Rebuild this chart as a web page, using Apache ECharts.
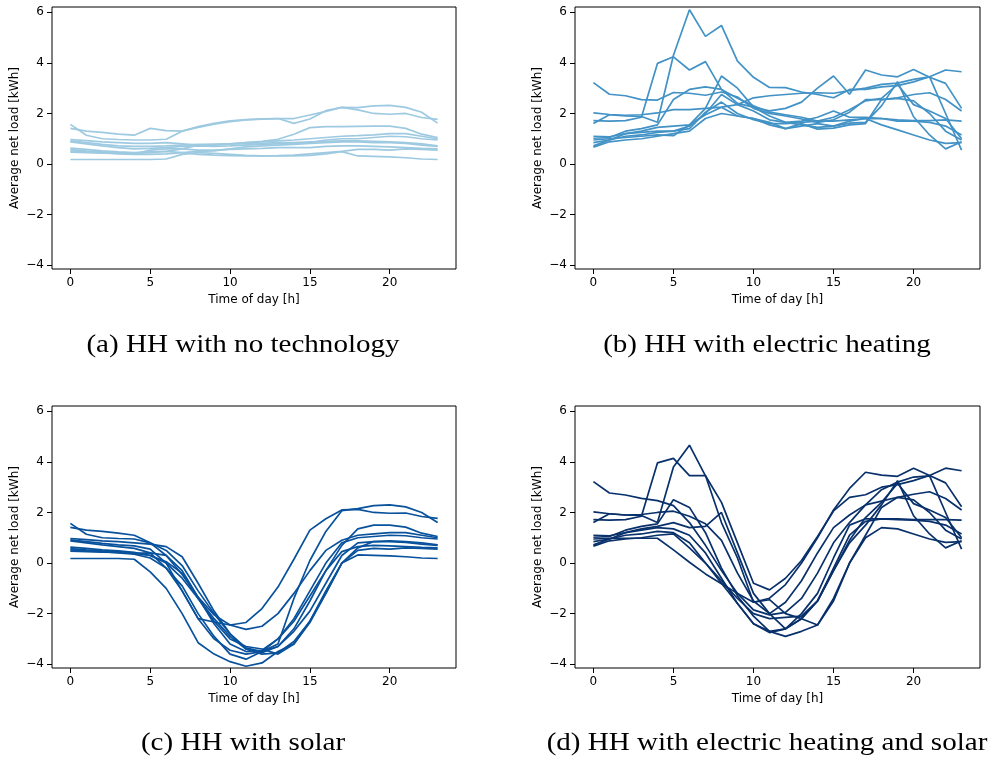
<!DOCTYPE html>
<html>
<head>
<meta charset="utf-8">
<script src="https://cdn.jsdelivr.net/npm/echarts@6/dist/echarts.min.js"></script>
<style>
  html, body { margin: 0; padding: 0; background: #ffffff; }
  #chart { width: 992px; height: 758px; }
</style>
</head>
<body>
<div id="chart"></div>
<script>
// Hour of day for every profile point
const hours = [0,1,2,3,4,5,6,7,8,9,10,11,12,13,14,15,16,17,18,19,20,21,22,23];
const xTickValues = [0, 5, 10, 15, 20];
const yTickValues = [-4, -2, 0, 2, 4, 6];

// (a) households with no technology: average net load per hour [kWh]
const noTech = [
  [1.57,1.14,1.00,0.97,0.95,0.95,0.98,1.30,1.48,1.61,1.71,1.76,1.79,1.80,1.61,1.78,2.11,2.24,2.23,2.30,2.32,2.24,2.05,1.62],
  [1.41,1.30,1.25,1.18,1.14,1.41,1.32,1.30,1.45,1.58,1.68,1.75,1.78,1.80,1.80,1.94,2.08,2.24,2.14,2.00,1.97,2.00,1.84,1.77],
  [0.97,0.93,0.88,0.85,0.82,0.82,0.85,0.80,0.75,0.75,0.80,0.85,0.90,0.98,1.18,1.44,1.48,1.48,1.49,1.50,1.50,1.41,1.18,1.05],
  [0.92,0.85,0.78,0.72,0.70,0.70,0.72,0.75,0.78,0.78,0.80,0.85,0.88,0.92,0.95,1.00,1.05,1.10,1.12,1.15,1.20,1.20,1.10,1.00],
  [0.88,0.80,0.72,0.65,0.60,0.62,0.65,0.70,0.72,0.70,0.72,0.75,0.78,0.80,0.82,0.85,0.95,1.00,1.00,1.05,1.10,1.08,1.00,0.95],
  [0.63,0.58,0.52,0.48,0.45,0.48,0.50,0.60,0.75,0.78,0.80,0.80,0.82,0.85,0.85,0.88,0.90,0.92,0.92,0.90,0.88,0.85,0.80,0.72],
  [0.57,0.52,0.48,0.45,0.40,0.55,0.60,0.60,0.55,0.55,0.58,0.60,0.62,0.65,0.65,0.65,0.70,0.72,0.72,0.70,0.68,0.65,0.62,0.60],
  [0.52,0.48,0.45,0.40,0.38,0.38,0.40,0.45,0.50,0.52,0.60,0.68,0.72,0.75,0.78,0.82,0.85,0.88,0.88,0.85,0.85,0.82,0.75,0.70],
  [0.47,0.45,0.43,0.42,0.42,0.45,0.50,0.45,0.38,0.35,0.33,0.32,0.32,0.33,0.35,0.40,0.45,0.50,0.58,0.58,0.55,0.60,0.58,0.55],
  [0.18,0.18,0.18,0.18,0.18,0.18,0.20,0.38,0.45,0.42,0.38,0.34,0.32,0.32,0.32,0.34,0.40,0.49,0.32,0.30,0.28,0.25,0.20,0.18]
];

// (b) households with electric heating
const elecHeating = [
  [1.60,1.95,1.90,1.88,1.65,4.30,6.10,5.05,5.48,4.07,3.43,3.03,3.02,2.85,2.75,2.62,2.95,2.95,3.05,3.10,3.25,3.45,3.72,3.65],
  [1.72,1.70,1.72,1.85,3.98,4.24,3.72,4.05,2.95,2.40,2.25,2.10,2.20,2.45,3.00,3.48,2.76,3.72,3.52,3.45,3.74,3.43,3.19,2.20],
  [3.22,2.76,2.70,2.55,2.53,2.83,2.80,2.72,2.85,2.65,2.20,2.00,1.90,1.78,1.65,1.75,2.05,2.55,2.55,2.62,2.75,2.82,2.55,2.10],
  [2.02,1.96,1.93,1.95,2.02,2.15,2.15,2.20,2.25,2.35,2.62,2.70,2.75,2.80,2.82,2.80,2.90,3.00,3.15,3.20,3.35,3.45,2.00,0.55],
  [1.10,1.08,1.20,1.30,1.45,1.50,1.55,2.20,3.48,3.00,2.25,1.90,1.65,1.55,1.45,1.50,1.62,1.65,2.30,3.26,1.87,1.15,0.60,0.88],
  [1.02,1.05,1.30,1.40,1.55,2.55,2.95,3.05,2.95,2.60,2.30,2.05,1.95,1.85,1.70,1.85,2.15,2.50,2.60,3.15,2.35,2.10,1.80,1.00],
  [0.72,0.95,1.20,1.25,1.30,1.30,1.50,2.00,2.75,2.35,2.10,1.75,1.65,1.70,1.85,2.10,1.85,1.85,1.80,1.75,1.72,1.72,1.75,1.70],
  [0.85,0.95,1.10,1.15,1.25,1.30,1.40,2.05,2.45,2.00,1.75,1.60,1.60,1.65,1.70,1.70,1.75,1.80,1.80,1.70,1.70,1.65,1.50,1.15],
  [0.67,0.88,0.95,1.00,1.10,1.20,1.30,1.80,2.00,1.90,1.80,1.65,1.40,1.60,1.38,1.42,1.55,1.60,2.55,2.60,2.50,2.00,1.30,0.95],
  [0.95,1.00,1.05,1.10,1.15,1.12,1.55,1.95,2.25,1.90,1.80,1.55,1.40,1.50,1.60,1.50,1.70,1.80,1.55,1.35,1.15,0.95,0.82,0.85]
];

// (c) households with solar
const solar = [
  [1.57,1.14,1.00,0.97,0.95,0.80,0.50,-0.10,-1.10,-2.00,-2.80,-3.35,-3.50,-3.20,-1.40,0.10,1.25,2.07,2.15,2.27,2.30,2.22,2.00,1.60],
  [1.41,1.30,1.25,1.18,1.10,0.80,0.30,-0.45,-1.35,-2.05,-2.45,-2.35,-1.80,-0.95,0.15,1.30,1.75,2.10,2.12,2.00,1.97,1.98,1.84,1.77],
  [0.97,0.93,0.88,0.85,0.80,0.75,0.65,0.25,-0.80,-1.90,-2.80,-3.40,-3.55,-3.30,-2.60,-1.50,-0.30,0.70,1.35,1.50,1.50,1.42,1.18,1.05],
  [0.92,0.85,0.78,0.72,0.68,0.55,0.00,-1.10,-2.20,-2.33,-2.45,-2.62,-2.50,-2.00,-1.20,-0.30,0.50,0.90,1.10,1.15,1.20,1.20,1.10,1.00],
  [0.88,0.80,0.72,0.65,0.58,0.40,-0.20,-1.10,-2.20,-3.00,-3.45,-3.60,-3.50,-3.00,-2.20,-1.10,0.00,0.80,1.00,1.05,1.10,1.08,1.00,0.95],
  [0.63,0.58,0.52,0.48,0.42,0.30,0.00,-0.60,-1.40,-2.20,-2.90,-3.40,-3.60,-3.55,-3.10,-2.30,-1.10,0.00,0.60,0.85,0.88,0.85,0.80,0.72],
  [0.57,0.52,0.48,0.45,0.38,0.40,0.30,-0.30,-1.35,-2.40,-3.20,-3.50,-3.45,-3.00,-2.30,-1.30,-0.30,0.45,0.65,0.70,0.68,0.65,0.62,0.60],
  [0.52,0.48,0.45,0.40,0.35,0.20,-0.20,-0.90,-2.00,-2.90,-3.60,-3.80,-3.50,-3.30,-2.70,-1.90,-0.80,0.30,0.80,0.85,0.85,0.82,0.75,0.70],
  [0.47,0.45,0.43,0.42,0.38,0.30,0.05,-0.40,-1.40,-2.30,-3.00,-3.30,-3.40,-3.60,-3.20,-2.30,-1.20,0.00,0.50,0.58,0.55,0.60,0.58,0.55],
  [0.18,0.18,0.18,0.18,0.15,-0.35,-1.00,-2.00,-3.15,-3.60,-3.90,-4.08,-3.95,-3.50,-3.20,-2.35,-1.20,0.00,0.32,0.30,0.28,0.25,0.20,0.18]
];

// (d) households with electric heating and solar
const elecHeatingSolar = [
  [1.60,1.95,1.90,1.88,1.60,3.80,4.66,3.45,2.40,0.80,-0.80,-1.06,-0.60,0.10,1.05,2.06,2.60,2.70,3.00,3.10,3.26,3.46,3.75,3.65],
  [1.72,1.70,1.72,1.85,3.96,4.14,3.46,3.46,1.60,0.20,-1.55,-1.39,-0.85,0.00,1.00,2.10,2.95,3.59,3.48,3.43,3.75,3.46,3.17,2.23],
  [3.22,2.77,2.69,2.56,2.47,2.27,1.60,0.70,-0.30,-1.20,-1.85,-2.05,-1.95,-1.40,-0.40,0.80,1.60,2.30,2.45,2.60,2.72,2.82,2.55,2.10],
  [2.02,1.95,1.90,1.92,2.00,2.05,1.85,1.55,0.90,-0.40,-1.50,-2.00,-1.55,-0.70,0.40,1.40,1.90,2.30,2.90,3.20,3.40,3.45,2.00,0.55],
  [1.10,1.08,1.20,1.35,1.45,1.60,1.40,1.45,2.00,0.40,-1.20,-2.00,-2.60,-2.20,-1.50,-0.30,0.80,1.50,2.30,3.26,1.87,1.15,0.60,0.88],
  [1.02,1.05,1.30,1.45,1.55,2.50,2.20,1.20,-0.20,-1.30,-2.10,-2.70,-2.60,-2.20,-1.50,-0.30,0.90,1.80,2.40,3.15,2.35,2.10,1.80,1.00],
  [0.72,0.95,1.20,1.30,1.40,1.35,1.10,0.40,-0.60,-1.60,-2.40,-2.75,-2.60,-2.00,-1.20,0.20,1.50,1.75,1.75,1.75,1.72,1.72,1.72,1.70],
  [0.85,0.95,1.10,1.15,1.25,1.20,0.80,0.00,-0.70,-1.40,-2.00,-2.20,-2.15,-2.10,-1.50,-0.20,1.10,1.65,1.75,1.72,1.70,1.65,1.50,1.15],
  [0.67,0.88,0.95,1.00,1.10,1.15,0.60,0.00,-0.80,-1.60,-2.40,-2.70,-2.90,-2.70,-2.45,-1.50,0.00,1.10,2.20,2.60,2.50,2.00,1.30,0.95],
  [0.95,0.98,0.98,0.98,0.98,0.52,0.03,-0.43,-0.82,-1.20,-1.55,-1.45,-2.00,-2.20,-2.45,-1.40,0.00,1.00,1.40,1.35,1.15,0.95,0.82,0.85]
];

const panelTitles = [
  '(a) HH with no technology',
  '(b) HH with electric heating',
  '(c) HH with solar',
  '(d) HH with electric heating and solar'
];
const panelData = [noTech, elecHeating, solar, elecHeatingSolar];
const panelColors = ['#9ecae1', '#4292c6', '#08519c', '#08306b'];

const grids = [
  { left: 52,  top: 7,   width: 404, height: 262 },
  { left: 575, top: 7,   width: 405, height: 262 },
  { left: 52,  top: 406, width: 404, height: 262 },
  { left: 575, top: 406, width: 405, height: 262 }
];
const captionPos = [[243, 345], [767, 345], [243, 743], [767, 743]];

const tickFont = { fontFamily: 'DejaVu Sans', fontSize: 12, color: '#000' };
const minusSign = v => String(v).replace('-', '\u2212');

const option = {
  animation: false,
  backgroundColor: '#ffffff',
  grid: grids.map(g => Object.assign({ show: true, borderColor: '#000', borderWidth: 1, containLabel: false }, g)),
  xAxis: grids.map((g, i) => ({
    gridIndex: i,
    type: 'value',
    position: 'bottom',
    min: -1.15,
    max: 24.15,
    name: 'Time of day [h]',
    nameLocation: 'middle',
    nameGap: 25,
    nameTextStyle: tickFont,
    axisLine: { show: false, onZero: false },
    axisTick: { show: true, length: 5, lineStyle: { color: '#000', width: 1 }, customValues: xTickValues },
    axisLabel: Object.assign({ margin: 8, customValues: xTickValues }, tickFont),
    splitLine: { show: false }
  })),
  yAxis: grids.map((g, i) => ({
    gridIndex: i,
    type: 'value',
    position: 'left',
    min: -4.15,
    max: 6.21,
    name: 'Average net load [kWh]',
    nameLocation: 'middle',
    nameRotate: 90,
    nameGap: 31,
    nameTextStyle: tickFont,
    axisLine: { show: false, onZero: false },
    axisTick: { show: true, length: 5, lineStyle: { color: '#000', width: 1 }, customValues: yTickValues },
    axisLabel: Object.assign({ margin: 8, customValues: yTickValues, formatter: minusSign }, tickFont),
    splitLine: { show: false }
  })),
  series: [],
  graphic: panelTitles.map((t, i) => ({
    type: 'text',
    x: captionPos[i][0],
    y: captionPos[i][1],
    scaleX: 1.14,
    style: {
      text: t,
      font: '25.5px "Liberation Serif"',
      fill: '#000',
      textAlign: 'center',
      textVerticalAlign: 'middle'
    }
  }))
};

panelData.forEach((profiles, p) => {
  profiles.forEach((vals, k) => {
    option.series.push({
      type: 'line',
      xAxisIndex: p,
      yAxisIndex: p,
      data: hours.map((h, j) => [h, vals[j]]),
      showSymbol: false,
      symbol: 'none',
      lineStyle: { color: panelColors[p], width: 1.7 },
      itemStyle: { color: panelColors[p] },
      emphasis: { disabled: true },
      silent: true
    });
  });
});

const chart = echarts.init(document.getElementById('chart'), null, { renderer: 'canvas' });
chart.setOption(option);
</script>
</body>
</html>
